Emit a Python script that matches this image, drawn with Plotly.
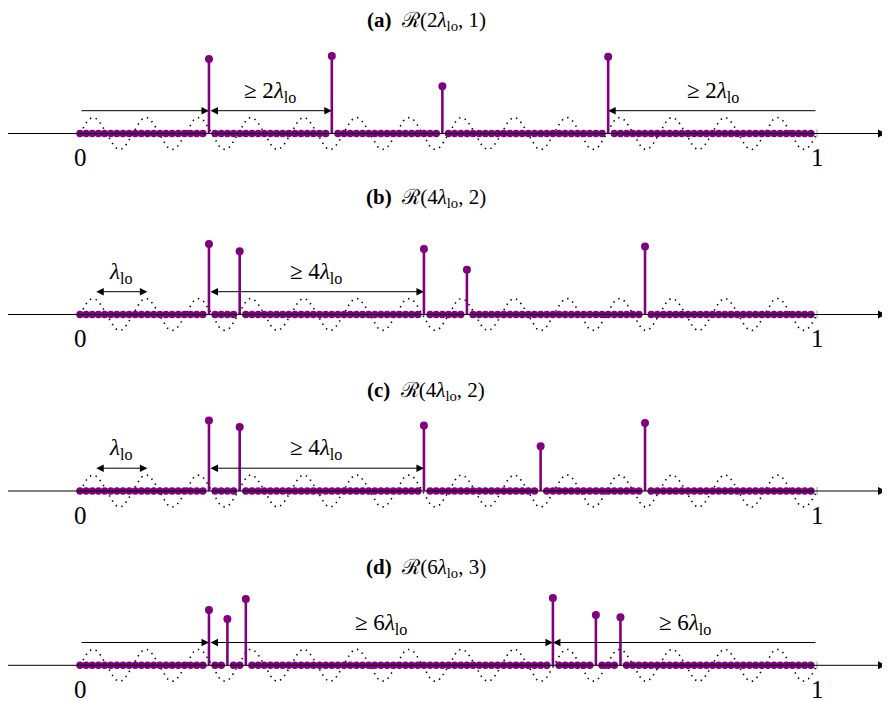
import numpy as np
import plotly.graph_objects as go

# ---------------- data ----------------
N_GRID = 120                      # grid points t = k/N on [0, 1)
LAMBDA_LO = 1.0 / 14.0            # wavelength of the dotted low-pass sinusoid
SIN_AMP = 0.2

panel_titles = ["(a)", "(b)", "(c)", "(d)"]
panel_sets = ["ℛ(2<i>λ</i><sub>lo</sub>, 1)", "ℛ(4<i>λ</i><sub>lo</sub>, 2)",
              "ℛ(4<i>λ</i><sub>lo</sub>, 2)", "ℛ(6<i>λ</i><sub>lo</sub>, 3)"]

spike_idx_a = [21, 41, 59, 86]
spike_amp_a = [0.93, 0.97, 0.59, 0.96]
spike_idx_b = [21, 26, 56, 63, 92]
spike_amp_b = [0.88, 0.79, 0.82, 0.56, 0.85]
spike_idx_c = [21, 26, 56, 75, 92]
spike_amp_c = [0.88, 0.80, 0.82, 0.56, 0.85]
spike_idx_d = [21, 24, 27, 77, 84, 88]
spike_amp_d = [0.69, 0.58, 0.83, 0.84, 0.63, 0.60]

sep_labels = ["≥ 2<i>λ</i><sub>lo</sub>", "≥ 4<i>λ</i><sub>lo</sub>",
              "≥ 4<i>λ</i><sub>lo</sub>", "≥ 6<i>λ</i><sub>lo</sub>"]
lam_label = "<i>λ</i><sub>lo</sub>"

spike_idx = [spike_idx_a, spike_idx_b, spike_idx_c, spike_idx_d]
spike_amp = [spike_amp_a, spike_amp_b, spike_amp_c, spike_amp_d]

# ---------------- layout helpers ----------------
OFF = 8                            # page body margin
W, H = 890 - OFF, 701 - OFF
PX_PER_UNIT = 80.0
axis_px = [133.5 - OFF, 314.5 - OFF, 491.0 - OFF, 665.3 - OFF]
title_px = [21 - OFF, 198 - OFF, 391 - OFF, 568 - OFF]
PURPLE = "#800080"
FONT = "Liberation Serif, DejaVu Serif, serif"

X0 = 80 - OFF
x_range = [-X0 / 737, (W - X0) / 737]

fig = go.Figure()
grid_t = np.arange(N_GRID) / N_GRID
sin_t = np.linspace(0, 1, 1200)
sin_y = SIN_AMP * np.sin(2 * np.pi * sin_t / LAMBDA_LO)

annotations = []
arr_y = 0.285
lab_y = 0.52

for i in range(4):
    yname = "y" if i == 0 else f"y{i+1}"
    idx = spike_idx[i]
    amp = spike_amp[i]
    tk = [k / N_GRID for k in idx]
    mask = np.ones(N_GRID, bool)
    mask[idx] = False

    # dotted sinusoid
    fig.add_trace(go.Scatter(x=sin_t, y=sin_y, mode="lines", yaxis=yname,
                             line=dict(color="black", width=1.6, dash="1.4px,4.6px"),
                             hoverinfo="skip"))
    # tick at 1
    fig.add_trace(go.Scatter(x=[1, 1], y=[-0.05, 0.05], mode="lines", yaxis=yname,
                             line=dict(color="#999999", width=1), hoverinfo="skip"))
    # zero grid dots
    fig.add_trace(go.Scatter(x=grid_t[mask], y=np.zeros(mask.sum()), mode="markers",
                             yaxis=yname, marker=dict(color=PURPLE, size=7.5,
                                                      line=dict(width=0))))
    # stems
    sx, sy = [], []
    for t, a in zip(tk, amp):
        sx += [t, t, None]
        sy += [0, a, None]
    fig.add_trace(go.Scatter(x=sx, y=sy, mode="lines", yaxis=yname,
                             line=dict(color=PURPLE, width=2.6)))
    fig.add_trace(go.Scatter(x=tk, y=amp, mode="markers", yaxis=yname,
                             marker=dict(color=PURPLE, size=8, line=dict(width=0))))

    yref = yname
    # horizontal axis with arrow
    annotations.append(dict(x=(886 - 80) / 737, y=0, ax=(5 - 80) / 737, ay=0,
                            xref="x", yref=yref, axref="x", ayref=yref, text="",
                            showarrow=True, arrowhead=2, arrowsize=1.6, arrowwidth=1,
                            arrowcolor="black"))
    # 0 / 1 labels
    for val, lab in [(0, "0"), (1, "1")]:
        annotations.append(dict(x=val, y=-0.3, xref="x", yref=yref, text=lab,
                                showarrow=False, font=dict(family=FONT, size=25, color="black")))
    # title
    annotations.append(dict(x=(426 - 80) / 737, y=(axis_px[i] - title_px[i]) / PX_PER_UNIT,
                            xref="x", yref=yref,
                            text=f"<b>{panel_titles[i]}</b>  {panel_sets[i]}", showarrow=False,
                            font=dict(family=FONT, size=21, color="black")))

    def arrow(x_from, x_to, both=False):
        annotations.append(dict(x=x_to, y=arr_y, ax=x_from, ay=arr_y, xref="x", yref=yref,
                                axref="x", ayref=yref, text="", showarrow=True,
                                arrowhead=2, startarrowhead=2, arrowsize=1.5,
                                startarrowsize=1.5, arrowwidth=1, arrowcolor="black",
                                arrowside="end+start" if both else "end"))

    def label(xc, txt):
        annotations.append(dict(x=xc, y=lab_y, xref="x", yref=yref, text=txt,
                                showarrow=False, font=dict(family=FONT, size=23, color="black")))

    if i == 0:
        arrow(0, tk[0])
        arrow(tk[0], tk[1], both=True)
        label((tk[0] + tk[1]) / 2, sep_labels[i])
        arrow(1, tk[3])
        label((tk[3] + 1) / 2, sep_labels[i])
    elif i in (1, 2):
        arrow(0.02, 0.02 + LAMBDA_LO, both=True)
        label(0.02 + LAMBDA_LO / 2, lam_label)
        arrow(tk[0], tk[2], both=True)
        label((tk[0] + tk[2]) / 2, sep_labels[i])
    else:
        arrow(0, tk[0])
        arrow(tk[0], tk[3], both=True)
        label((tk[0] + tk[3]) / 2, sep_labels[i])
        arrow(1, tk[3])
        label((tk[3] + 1) / 2, sep_labels[i])

layout = dict(width=W, height=H, margin=dict(l=0, r=0, t=0, b=0),
              paper_bgcolor="white", plot_bgcolor="white", showlegend=False,
              xaxis=dict(range=x_range, visible=False, fixedrange=True),
              annotations=annotations)
for i in range(4):
    p = axis_px[i]
    ax = dict(domain=[0, 1], range=[-(H - p) / PX_PER_UNIT, p / PX_PER_UNIT],
              visible=False, fixedrange=True, anchor="x")
    if i > 0:
        ax["overlaying"] = "y"
    layout["yaxis" if i == 0 else f"yaxis{i+1}"] = ax
fig.update_layout(**layout)

fig.write_html("out.html")
